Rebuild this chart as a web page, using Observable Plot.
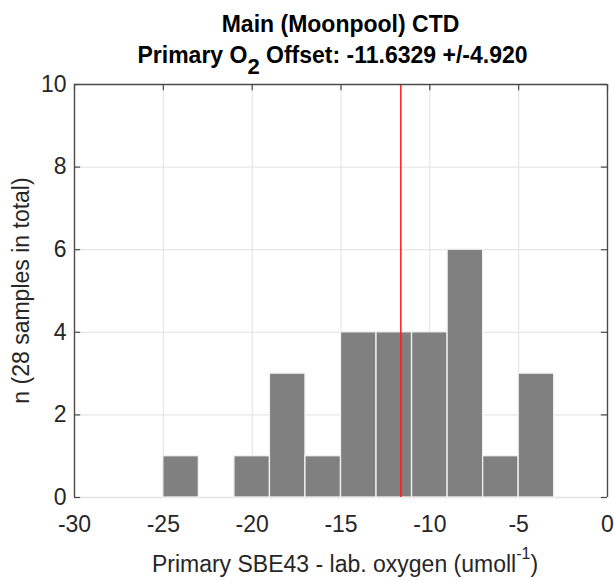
<!DOCTYPE html>
<html>
<head>
<meta charset="utf-8">
<script src="https://cdn.jsdelivr.net/npm/d3@7"></script>
<script src="https://cdn.jsdelivr.net/npm/@observablehq/plot@0.6"></script>
<style>
  html, body { margin: 0; padding: 0; background: #ffffff; }
  #chart { width: 614px; height: 581px; }
</style>
</head>
<body>
<div id="chart"></div>
<script>
// ---- data ----
const binStart = [-25, -23, -21, -19, -17, -15, -13, -11, -9, -7, -5];
const binCounts = [1, 0, 1, 3, 1, 4, 4, 4, 6, 1, 3];
const binWidth = 2;
const meanOffset = -11.6329;
const stdOffset = 4.920;
const xTicks = [-30, -25, -20, -15, -10, -5, 0];
const yTicks = [0, 2, 4, 6, 8, 10];
const titleLine1 = "Main (Moonpool) CTD";
const titleLine2a = "Primary O";
const titleLine2sub = "2";
const titleLine2b = ` Offset: ${meanOffset.toFixed(4)} +/-${stdOffset.toFixed(3)}`;
const xLabelMain = "Primary SBE43 - lab. oxygen (umoll";
const xLabelSup = "-1";
const xLabelEnd = ")";
const yLabel = "n (28 samples in total)";

const bins = binStart.map((s, i) => ({x1: s, x2: s + binWidth, n: binCounts[i]}));
const FONT = "'Liberation Sans', Arial, Helvetica, sans-serif";
const AX = "#262626";
const BOX = "#4a4a4a";
const LIGHT = "#e2e2e2";
const xDom = [xTicks[0], xTicks[xTicks.length - 1]];
const yDom = [yTicks[0], yTicks[yTicks.length - 1]];
const tickX = (xDom[1] - xDom[0]) * 0.0115;
const tickY = (yDom[1] - yDom[0]) * 0.015;

const chart = Plot.plot({
  width: 614,
  height: 581,
  marginLeft: 74,
  marginRight: 7,
  marginTop: 84,
  marginBottom: 84,
  style: {fontFamily: FONT, fontSize: "23px", background: "#ffffff", color: AX},
  x: {domain: xDom},
  y: {domain: yDom},
  marks: [
    // grid
    Plot.ruleX(xTicks.slice(1, -1), {stroke: "#e0e0e0", strokeWidth: 1}),
    Plot.ruleY(yTicks.slice(1, -1), {stroke: "#e0e0e0", strokeWidth: 1}),
    // bottom axis line (light in the reference)
    Plot.ruleY([yDom[0]], {stroke: LIGHT, strokeWidth: 1.5}),
    // histogram bars
    Plot.rectY(bins.filter(d => d.n > 0), {x1: "x1", x2: "x2", y: "n", fill: "#808080", stroke: "#f2f2f2", strokeWidth: 1.3}),
    // mean offset line
    Plot.ruleX([meanOffset], {y1: yDom[0], y2: yDom[1], stroke: "#ff1a1a", strokeWidth: 1.5}),
    // box: left, top, right
    Plot.ruleX([xDom[0], xDom[1]], {y1: yDom[0], y2: yDom[1], stroke: BOX, strokeWidth: 1.4}),
    Plot.ruleY([yDom[1]], {x1: xDom[0], x2: xDom[1], stroke: BOX, strokeWidth: 1.4}),
    // inward ticks (top, left, right)
    Plot.ruleX(xTicks, {y1: yDom[1], y2: yDom[1] - tickY, stroke: BOX, strokeWidth: 1.2}),
    Plot.ruleY(yTicks, {x1: xDom[0], x2: xDom[0] + tickX, stroke: BOX, strokeWidth: 1.2}),
    Plot.ruleY(yTicks, {x1: xDom[1], x2: xDom[1] - tickX, stroke: BOX, strokeWidth: 1.2}),
    // tick labels
    Plot.axisX(xTicks, {anchor: "bottom", tickSize: 0, tickPadding: 18, label: null, fontSize: 23, fill: AX, tickFormat: d => String(d)}),
    Plot.axisY(yTicks, {anchor: "left", tickSize: 0, tickPadding: 8, label: null, fontSize: 23, fill: AX, tickFormat: d => String(d)})
  ]
});

document.getElementById("chart").appendChild(chart);

const svg = d3.select(chart);
const cx = 74 + (614 - 7 - 74) / 2;

// titles
svg.append("text")
  .attr("x", cx).attr("y", 31.7)
  .attr("text-anchor", "middle")
  .attr("font-family", FONT).attr("font-size", 23).attr("font-weight", "bold")
  .attr("fill", "#000")
  .text(titleLine1);

const t2 = svg.append("text")
  .attr("x", cx - 8).attr("y", 63.3)
  .attr("text-anchor", "middle")
  .attr("font-family", FONT).attr("font-size", 23).attr("font-weight", "bold")
  .attr("fill", "#000");
t2.append("tspan").text(titleLine2a);
t2.append("tspan").attr("dy", 11).attr("font-size", 22).text(titleLine2sub);
t2.append("tspan").attr("dy", -11).attr("font-size", 23).text(titleLine2b);

// x label
const xl = svg.append("text")
  .attr("x", cx + 4.5).attr("y", 572)
  .attr("text-anchor", "middle")
  .attr("font-family", FONT).attr("font-size", 23)
  .attr("fill", AX);
xl.append("tspan").text(xLabelMain);
xl.append("tspan").attr("dy", -13).attr("font-size", 16).text(xLabelSup);
xl.append("tspan").attr("dy", 13).attr("font-size", 23).text(xLabelEnd);

// y label
svg.append("text")
  .attr("transform", `translate(29, ${84 + (497 - 84) / 2}) rotate(-90)`)
  .attr("text-anchor", "middle")
  .attr("font-family", FONT).attr("font-size", 23)
  .attr("fill", AX)
  .text(yLabel);
</script>
</body>
</html>
